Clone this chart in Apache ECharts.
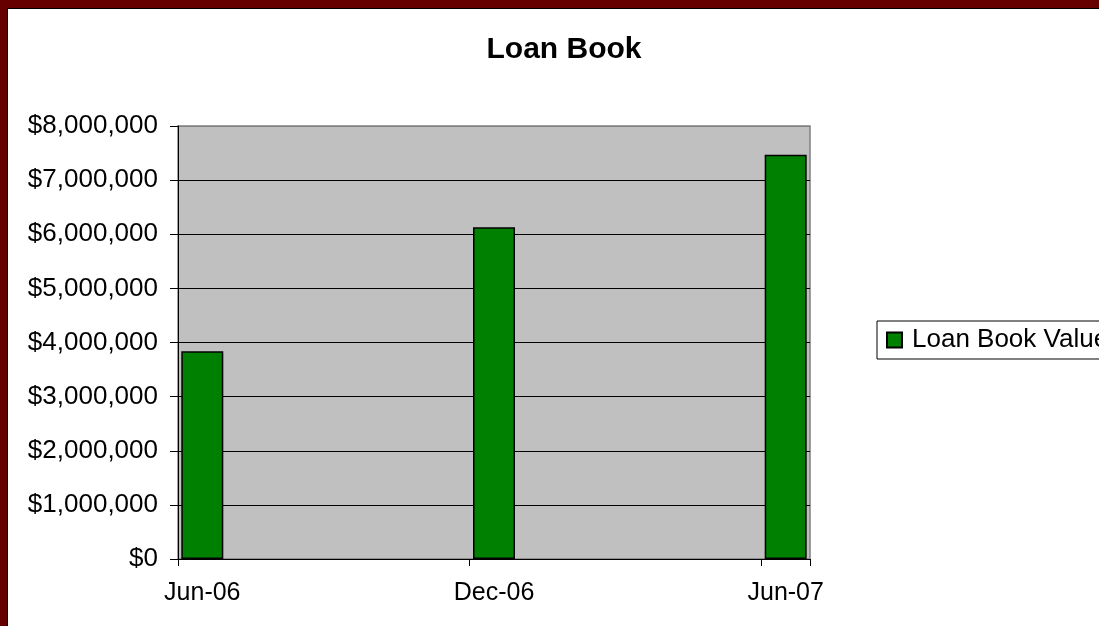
<!DOCTYPE html>
<html>
<head>
<meta charset="utf-8">
<script src="https://cdn.jsdelivr.net/npm/echarts@6/dist/echarts.min.js"></script>
<style>
html,body{margin:0;padding:0;background:#fff;}
#chart{width:1099px;height:626px;}
</style>
</head>
<body>
<div id="chart"></div>
<script>
// Monthly slots of the date axis (Jun-06 .. Jun-07)
const months = ['Jun-06','Jul-06','Aug-06','Sep-06','Oct-06','Nov-06','Dec-06','Jan-07','Feb-07','Mar-07','Apr-07','May-07','Jun-07'];
const shownLabels = ['Jun-06','Dec-06','Jun-07'];
const seriesName = 'Loan Book Value';
const loanBookValues = [3840000, null, null, null, null, null, 6130000, null, null, null, null, null, 7470000];
const yTicks = [0, 1000000, 2000000, 3000000, 4000000, 5000000, 6000000, 7000000, 8000000];

const fontFamily = 'Arial, "Liberation Sans", sans-serif';
const gridColors = yTicks.map(function (v, i) { return i === yTicks.length - 1 ? '#808080' : '#000'; });
const chart = echarts.init(document.getElementById('chart'));
chart.setOption({
  backgroundColor: '#ffffff',
  animation: false,
  title: {
    text: 'Loan Book',
    left: 559, top: 30, textAlign: 'center',
    textStyle: { fontFamily, fontSize: 30, fontWeight: 'bold', color: '#000' }
  },
  legend: {
    data: [seriesName],
    left: 877, top: 321,
    orient: 'vertical',
    icon: 'rect',
    itemWidth: 15, itemHeight: 15, itemGap: 8,
    padding: [6, 10, 6, 9],
    borderColor: '#000', borderWidth: 1,
    backgroundColor: '#fff',
    textStyle: { fontFamily, fontSize: 26, color: '#000', padding: [0,0,0,5] }
  },
  grid: {
    left: 178, top: 126, width: 632, height: 433,
    show: true, backgroundColor: '#C0C0C0', borderColor: '#808080', borderWidth: 1.5
  },
  xAxis: {
    type: 'category',
    data: months,
    boundaryGap: true,
    axisLine: { lineStyle: { color: '#000', width: 1 } },
    axisTick: { show: true, length: 7, lineStyle: { color: '#000' },
      interval: function (i) { return i % 6 === 0; } },
    axisLabel: {
      interval: function (i, v) { return shownLabels.indexOf(v) >= 0; },
      fontFamily, fontSize: 25, color: '#000', margin: 22
    },
    splitLine: { show: false }
  },
  yAxis: {
    type: 'value',
    min: yTicks[0], max: yTicks[yTicks.length - 1], interval: 1000000,
    axisLine: { show: true, lineStyle: { color: '#000', width: 1 } },
    axisTick: { show: true, length: 8, lineStyle: { color: '#000' } },
    axisLabel: {
      fontFamily, fontSize: 26, color: '#000', margin: 20,
      formatter: function (v) { return '$' + v.toLocaleString('en-US'); }
    },
    splitLine: { show: true, lineStyle: { color: gridColors, width: 1 } }
  },
  series: [{
    name: seriesName,
    type: 'bar',
    data: loanBookValues,
    barWidth: 42,
    itemStyle: { color: '#008000', borderColor: '#000', borderWidth: 1.5 }
  }],
  graphic: [
    { type: 'rect', left: 0, top: 0, shape: { width: 7, height: 626 }, style: { fill: '#660000' }, z: 100 },
    { type: 'rect', left: 0, top: 0, shape: { width: 1099, height: 8 }, style: { fill: '#660000' }, z: 100 },
    { type: 'rect', left: 7, top: 8, shape: { width: 1, height: 618 }, style: { fill: '#000' }, z: 100 },
    { type: 'rect', left: 7, top: 8, shape: { width: 1092, height: 1 }, style: { fill: '#000' }, z: 100 }
  ]
});
</script>
</body>
</html>
